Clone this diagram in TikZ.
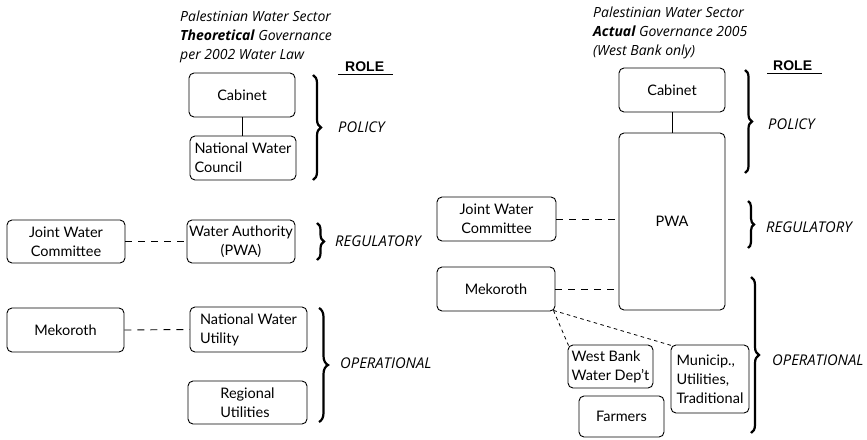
\documentclass[tikz,border=0pt]{standalone}
\usepackage{fontspec}
\setmainfont{Lato}
\newfontfamily\rolefont{Liberation Sans}
\newfontfamily\itfont{Open Sans}
\usetikzlibrary{decorations.pathreplacing,calc}
\begin{document}
\begin{tikzpicture}[x=1pt,y=-1pt,
  box/.style={draw, rounded corners=5pt, line width=0.9pt, inner sep=1pt,
    font=\fontsize{14.5}{19}\selectfont, align=center},
  lbox/.style={box, align=left},
  solidline/.style={draw, line width=0.9pt},
  dashline/.style={draw, line width=0.9pt, dash pattern=on 7pt off 6pt},
  dotline/.style={draw, line width=0.8pt, dash pattern=on 3.5pt off 3.5pt},
  brc/.style={decorate, decoration={brace, amplitude=#1}, line width=2.2pt},
  brc/.default=8pt,
  lab/.style={font=\itfont\fontsize{14.8}{16}\selectfont\itshape, inner sep=0pt, anchor=west},
  title/.style={font=\itfont\fontsize{14}{19}\selectfont\itshape, inner sep=0pt, align=left, anchor=north west},
  rolestyle/.style={font=\rolefont\fontsize{14}{16}\selectfont\bfseries, inner sep=0pt, anchor=west}
]
\useasboundingbox (0,0) rectangle (867,439);

% ---------------- Left: theoretical ----------------
\node[title] (titleL) at (180,10.5) {Palestinian Water Sector\\\textbf{Theoretical} Governance\\per 2002 Water Law};
\node[rolestyle] (roleL) at (345,67) {ROLE};
\draw[line width=0.9pt] (338,74) -- (393,74);

\node[box, minimum width=106pt, minimum height=44pt] (cabL) at (242,95) {Cabinet};
\node[lbox, minimum width=106pt, minimum height=44pt] (nwc) at (243,158) {National Water\\Council};
\node[box, minimum width=108pt, minimum height=43pt] (pwaL) at (241,241.5) {Water Authority\\(PWA)};
\node[box, minimum width=118pt, minimum height=43pt] (jwcL) at (66,241.5) {Joint Water\\Committee};
\node[lbox, minimum width=117pt, minimum height=45pt] (nwu) at (248.5,329.5) {National Water\\Utility};
\node[box, minimum width=117pt, minimum height=44pt] (mekL) at (65.5,330) {Mekoroth};
\node[lbox, minimum width=119pt, minimum height=43pt] (ru) at (247.5,402.5) {Regional\\Utilities};

\draw[solidline] (cabL.south) -- (cabL.south |- nwc.north);
\draw[solidline] ($(nwc.south)+(-3,0)$) -- ($(nwc.south)+(-3,0)$ |- pwaL.north);
\draw[dashline] (jwcL.east) -- (pwaL.west);
\draw[solidline] ($(pwaL.south)+(-2,0)$) -- ($(pwaL.south)+(-2,0)$ |- nwu.north);
\draw[dashline] (mekL.east) -- (nwu.west);
\draw[solidline] ($(nwu.south)+(-8,0)$) -- ($(nwu.south)+(-8,0)$ |- ru.north);

\draw[brc=8pt] (313,75) -- (313,180);
\node[lab] (polL) at (338,127) {POLICY};
\draw[brc=7pt] (317,223) -- (317,260);
\node[lab] (regL) at (335,241) {REGULATORY};
\draw[brc=9pt] (319,308) -- (319,422);
\node[lab] (opL) at (340,363) {OPERATIONAL};

% ---------------- Right: actual ----------------
\node[title] (titleR) at (593,6.5) {Palestinian Water Sector\\\textbf{Actual} Governance 2005\\(West Bank only)};
\node[rolestyle] (roleR) at (773,66) {ROLE};
\draw[line width=0.9pt] (767,73) -- (822,73);

\node[box, minimum width=106pt, minimum height=44pt] (cabR) at (672,90) {Cabinet};
\node[box, minimum width=106pt, minimum height=177pt] (pwaR) at (672,221.5) {PWA};
\node[box, minimum width=119pt, minimum height=44pt] (jwcR) at (496.5,219) {Joint Water\\Committee};
\node[box, minimum width=118pt, minimum height=44pt] (mekR) at (496,289) {Mekoroth};
\node[lbox, minimum width=85pt, minimum height=43pt] (wbwd) at (610.5,366.5) {West Bank\\Water Dep\symbol{39}t};
\node[lbox, minimum width=78pt, minimum height=68pt] (mun) at (710,379) {Municip.,\\Utilities,\\Traditional};
\node[box, minimum width=85pt, minimum height=41pt] (farm) at (621.5,416.5) {Farmers};

\draw[solidline] (cabR.south) -- (pwaR.north);
\draw[dashline] (jwcR.east) -- (jwcR.east -| pwaR.west);
\draw[dashline] (mekR.east) -- (mekR.east -| pwaR.west);
\draw[solidline] ($(pwaR.south west)+(15,0)$) -- ($(pwaR.south west)+(15,0)$ |- wbwd.north);
\draw[dashline, dash phase=-2pt] ($(pwaR.south east)+(-21,0)$) -- ($(pwaR.south east)+(-21,0)$ |- mun.north);
\draw[dotline] ($(mekR.south east)+(-2,-1)$) -- ($(wbwd.north west)+(1,1)$);
\draw[dotline] ($(mekR.south east)+(-2,-1)$) -- ($(mun.north west)+(1,1)$);

\draw[brc=7pt] (745,70) -- (745,173);
\node[lab] (polR) at (768,124) {POLICY};
\draw[brc=6pt] (748,201) -- (748,248);
\node[lab] (regR) at (766,227) {REGULATORY};
\draw[brc=8pt] (751,277) -- (751,433);
\node[lab] (opR) at (772,360) {OPERATIONAL};
\end{tikzpicture}
\end{document}
